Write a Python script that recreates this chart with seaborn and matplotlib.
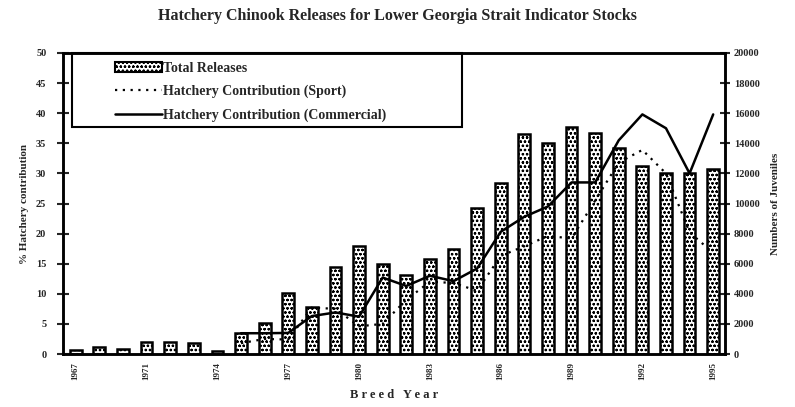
import numpy as np
import pandas as pd
import matplotlib
matplotlib.use("Agg")
import matplotlib.pyplot as plt
import seaborn as sns
from matplotlib.patches import Rectangle, Patch
from matplotlib.lines import Line2D

sns.set_style("white")
plt.rcParams['font.family'] = ['Liberation Serif', 'DejaVu Serif']
plt.rcParams['font.weight'] = 'bold'
plt.rcParams['hatch.linewidth'] = 0.6

# data
breed_years = [1967, 1969, 1970, 1971, 1972, 1973, 1974, 1975, 1976, 1977,
               1978, 1979, 1980, 1981, 1982, 1983, 1984, 1985, 1986, 1987,
               1988, 1989, 1990, 1991, 1992, 1993, 1994, 1995]
total_releases = [280, 450, 330, 780, 830, 740, 230, 1400, 2040, 4040,
                  3150, 5750, 7150, 5980, 5270, 6330, 6950, 9670, 11380, 14600,
                  14000, 15050, 14700, 13710, 12470, 12020, 12020, 12290]

line_years = [1975, 1976, 1977, 1978, 1979, 1980, 1981, 1982, 1983, 1984, 1985,
              1986, 1987, 1988, 1989, 1990, 1991, 1992, 1993, 1994, 1995]
sport_pct = [1.8, 2.5, 2.4, 7.7, 7.5, 4.6, 5.0, 9.0, 12.0, 11.8, 10.5,
             16.3, 17.9, 19.6, 19.2, 25.5, 31.8, 33.9, 30.0, 20.2, 16.8]
commercial_pct = [3.45, 3.45, 3.5, 6.3, 6.9, 6.2, 12.7, 11.3, 13.0, 12.1, 14.2,
                  20.3, 22.8, 24.5, 28.5, 28.5, 35.5, 39.8, 37.5, 30.0, 39.8]

tick_years = [1967, 1971, 1974, 1977, 1980, 1983, 1986, 1989, 1992, 1995]

bars_df = pd.DataFrame({'year': [str(y) for y in breed_years], 'releases': total_releases})
pos = [breed_years.index(y) for y in line_years]

fig = plt.figure(figsize=(7.95, 4.07), dpi=100)
ax = fig.add_axes([63 / 795, 1 - 354 / 407, (725 - 63) / 795, (354 - 53) / 407])

# bars on the juvenile-count axis (shown on the right)
sns.barplot(data=bars_df, x='year', y='releases', order=bars_df['year'], color='white',
            saturation=1, edgecolor='black', linewidth=1.8, width=0.5, ax=ax)
for p in ax.patches:
    p.set_hatch('oooo')

# lines on the % axis (shown on the left)
ax2 = ax.twinx()
sns.lineplot(x=pos, y=sport_pct, ax=ax2, color='black', lw=1.6, linestyle=(0, (1, 2.5)))
sns.lineplot(x=pos, y=commercial_pct, ax=ax2, color='black', lw=1.8)

ax.set_ylim(0, 20000)
ax.set_yticks(np.arange(0, 20001, 2000))
ax.yaxis.tick_right()
ax.yaxis.set_label_position('right')
ax.set_ylabel('Numbers of Juveniles', fontsize=8, fontweight='bold', labelpad=8)
ax.tick_params(axis='y', direction='inout', length=7, width=1.5, labelsize=7.5, pad=3)

ax2.set_ylim(0, 50)
ax2.set_yticks(np.arange(0, 51, 5))
ax2.yaxis.tick_left()
ax2.yaxis.set_label_position('left')
ax2.set_ylabel('% Hatchery contribution', fontsize=8, fontweight='bold', labelpad=5)
ax2.tick_params(axis='y', direction='inout', length=8, width=1.5, labelsize=7.5, pad=8)

ax.set_xlim(-0.54, len(breed_years) - 0.5)
tick_pos = [breed_years.index(y) for y in tick_years]
ax.set_xticks(tick_pos)
ax.set_xticklabels([str(y) for y in tick_years], rotation=90, fontsize=6.5, fontweight='bold')
ax.set_xticks(np.array(tick_pos[1:]) - 0.5, minor=True)
ax.tick_params(axis='x', which='major', length=0, pad=6)
ax.tick_params(axis='x', which='minor', direction='inout', length=7, width=1.5)
ax.set_xlabel('B r e e d   Y e a r', fontsize=9, fontweight='bold', labelpad=6)

for a in (ax, ax2):
    for s in a.spines.values():
        s.set_visible(True)
        s.set_color('black')
        s.set_linewidth(1.8)
    a.grid(False)

# legend inside a box at the top left
x0, y0 = 72 / 795, 1 - 127 / 407
fig.patches.append(Rectangle((x0, y0), (462 - 72) / 795, (127 - 53) / 407,
                             transform=fig.transFigure, fill=False, ec='black', lw=1.5, zorder=5))
handles = [Patch(facecolor='white', edgecolor='black', hatch='oooo', lw=1.5),
           Line2D([], [], color='black', lw=1.6, linestyle=(0, (1, 2.5))),
           Line2D([], [], color='black', lw=1.8)]
labels = ['Total Releases', 'Hatchery Contribution (Sport)', 'Hatchery Contribution (Commercial)']
fig.legend(handles, labels, loc='upper left', bbox_to_anchor=(102 / 795, 1 - 49 / 407),
           frameon=False, handlelength=3.4, handletextpad=0.1,
           labelspacing=0.75, prop={'weight': 'bold', 'size': 10})

fig.text(0.5, 1 - 16 / 407, 'Hatchery Chinook Releases for Lower Georgia Strait Indicator Stocks',
         ha='center', va='center', fontsize=11.5, fontweight='bold')

fig.savefig('out.png', dpi=100)
